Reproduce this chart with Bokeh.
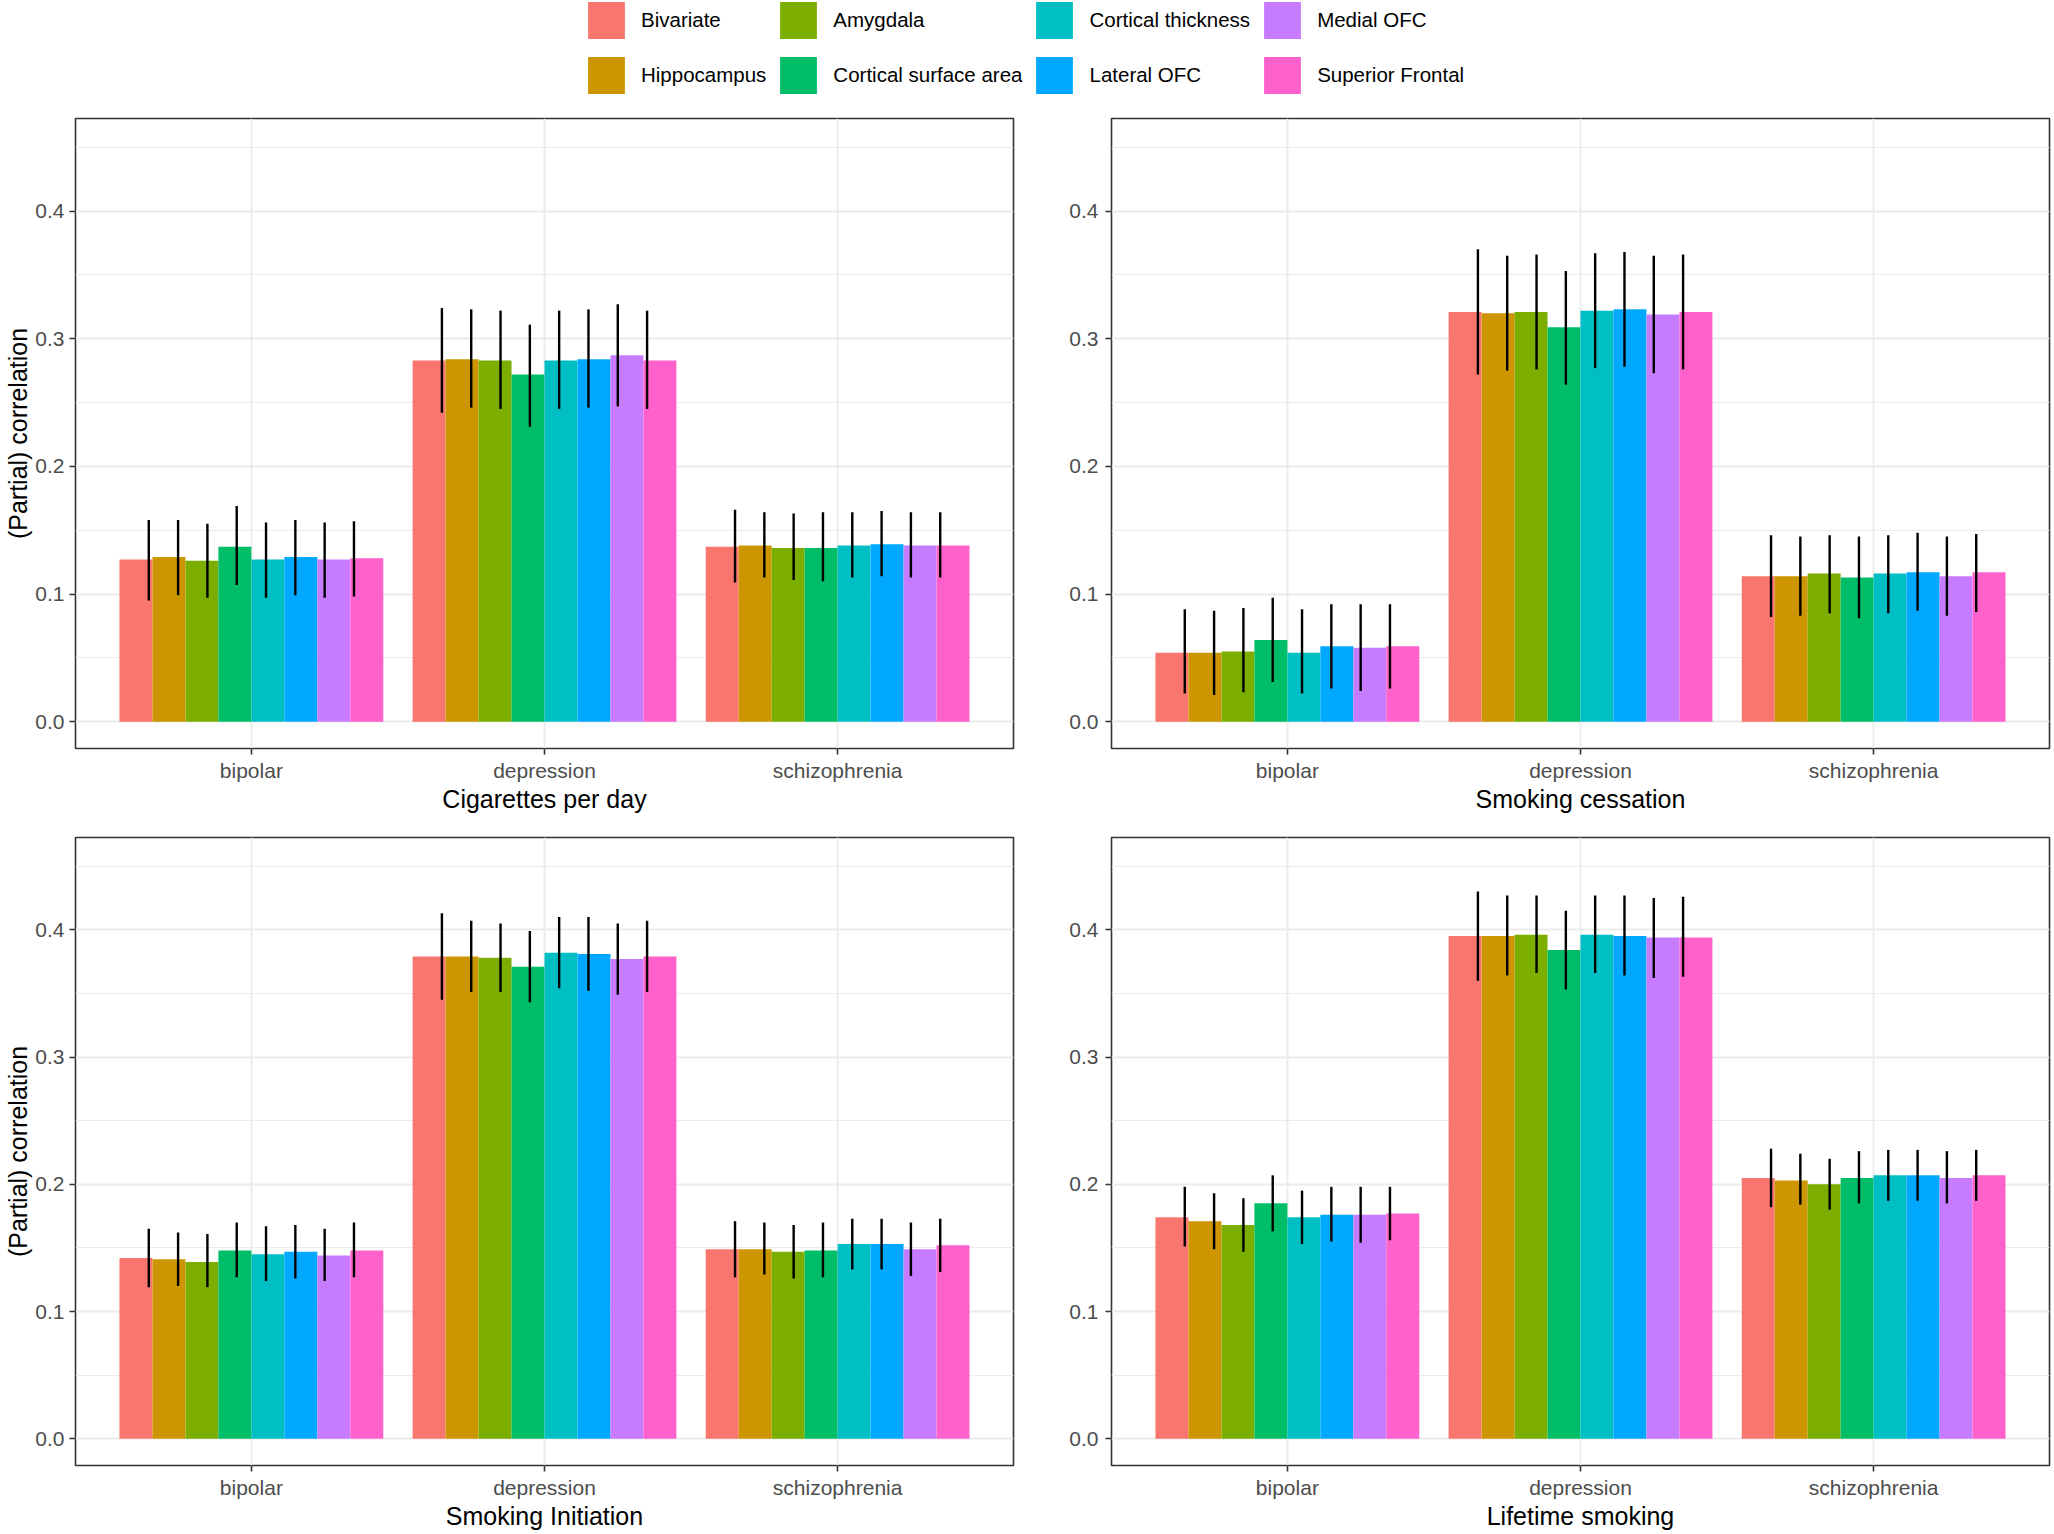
from bokeh.plotting import figure
from bokeh.models import (ColumnDataSource, FactorRange, Range1d, FixedTicker,
                          Legend, LegendItem)
from bokeh.layouts import column, row
from bokeh.transform import dodge
from bokeh.embed import file_html
from bokeh.resources import INLINE

# ---------------- data ----------------
CATEGORIES = ["bipolar", "depression", "schizophrenia"]
SERIES = ["Bivariate", "Hippocampus", "Amygdala", "Cortical surface area",
          "Cortical thickness", "Lateral OFC", "Medial OFC", "Superior Frontal"]
COLORS = ["#F8766D", "#CD9600", "#7CAE00", "#00BE67",
          "#00BFC4", "#00A9FF", "#C77CFF", "#FF61CC"]
PANEL_TITLES = ["Cigarettes per day", "Smoking cessation",
                "Smoking Initiation", "Lifetime smoking"]
Y_TICKS = [0.0, 0.1, 0.2, 0.3, 0.4]
Y_TICK_LABELS = ["0.0", "0.1", "0.2", "0.3", "0.4"]
Y_MINOR = [0.05, 0.15, 0.25, 0.35, 0.45]
Y_LABEL = "(Partial) correlation"

# rows: bipolar, depression, schizophrenia ; columns: SERIES order
cig_r = [[0.127, 0.129, 0.126, 0.137, 0.127, 0.129, 0.127, 0.128],
         [0.283, 0.284, 0.283, 0.272, 0.283, 0.284, 0.287, 0.283],
         [0.137, 0.138, 0.136, 0.136, 0.138, 0.139, 0.138, 0.138]]
cig_lo = [[0.095, 0.099, 0.097, 0.107, 0.097, 0.099, 0.097, 0.098],
          [0.242, 0.246, 0.245, 0.231, 0.245, 0.246, 0.247, 0.245],
          [0.109, 0.113, 0.111, 0.110, 0.113, 0.114, 0.113, 0.113]]
cig_hi = [[0.158, 0.158, 0.155, 0.169, 0.156, 0.158, 0.156, 0.157],
          [0.324, 0.323, 0.322, 0.311, 0.322, 0.323, 0.327, 0.322],
          [0.166, 0.164, 0.163, 0.164, 0.164, 0.165, 0.164, 0.164]]

ces_r = [[0.054, 0.054, 0.055, 0.064, 0.054, 0.059, 0.058, 0.059],
         [0.321, 0.320, 0.321, 0.309, 0.322, 0.323, 0.319, 0.321],
         [0.114, 0.114, 0.116, 0.113, 0.116, 0.117, 0.114, 0.117]]
ces_lo = [[0.022, 0.021, 0.023, 0.031, 0.022, 0.026, 0.024, 0.026],
          [0.272, 0.275, 0.276, 0.264, 0.277, 0.278, 0.273, 0.276],
          [0.082, 0.083, 0.085, 0.081, 0.085, 0.087, 0.083, 0.086]]
ces_hi = [[0.088, 0.087, 0.089, 0.097, 0.088, 0.092, 0.092, 0.092],
          [0.370, 0.365, 0.366, 0.353, 0.367, 0.368, 0.365, 0.366],
          [0.146, 0.145, 0.146, 0.145, 0.146, 0.148, 0.145, 0.147]]

ini_r = [[0.142, 0.141, 0.139, 0.148, 0.145, 0.147, 0.144, 0.148],
         [0.379, 0.379, 0.378, 0.371, 0.382, 0.381, 0.377, 0.379],
         [0.149, 0.149, 0.147, 0.148, 0.153, 0.153, 0.149, 0.152]]
ini_lo = [[0.119, 0.120, 0.119, 0.127, 0.124, 0.126, 0.124, 0.127],
          [0.345, 0.351, 0.351, 0.343, 0.354, 0.352, 0.349, 0.351],
          [0.127, 0.129, 0.126, 0.127, 0.133, 0.133, 0.128, 0.131]]
ini_hi = [[0.165, 0.162, 0.161, 0.170, 0.167, 0.168, 0.165, 0.170],
          [0.413, 0.407, 0.405, 0.399, 0.410, 0.410, 0.405, 0.407],
          [0.171, 0.170, 0.168, 0.170, 0.173, 0.173, 0.170, 0.173]]

life_r = [[0.174, 0.171, 0.168, 0.185, 0.174, 0.176, 0.176, 0.177],
          [0.395, 0.395, 0.396, 0.384, 0.396, 0.395, 0.394, 0.394],
          [0.205, 0.203, 0.200, 0.205, 0.207, 0.207, 0.205, 0.207]]
life_lo = [[0.151, 0.149, 0.147, 0.163, 0.153, 0.155, 0.154, 0.156],
           [0.360, 0.364, 0.366, 0.353, 0.366, 0.364, 0.362, 0.363],
           [0.182, 0.184, 0.180, 0.185, 0.187, 0.187, 0.185, 0.187]]
life_hi = [[0.198, 0.193, 0.189, 0.207, 0.195, 0.198, 0.198, 0.198],
           [0.430, 0.427, 0.427, 0.415, 0.427, 0.427, 0.425, 0.426],
           [0.228, 0.224, 0.220, 0.226, 0.227, 0.227, 0.226, 0.227]]

PANELS = [(cig_r, cig_lo, cig_hi), (ces_r, ces_lo, ces_hi),
          (ini_r, ini_lo, ini_hi), (life_r, life_lo, life_hi)]

# ---------------- style ----------------
FONT = "Liberation Sans"
GRID = "#EBEBEB"
N = len(SERIES)
BAR_DODGE = 0.9
ERR_DODGE = 0.8


def make_panel(idx, width, height, left, right, top, bottom, ylabel):
    r, lo, hi = PANELS[idx]
    xr = FactorRange(*CATEGORIES, range_padding=0.1, range_padding_units="absolute")
    p = figure(x_range=xr, y_range=Range1d(-0.021, 0.4725),
               width=width, height=height, output_backend="svg",
               toolbar_location=None, min_border_left=left,
               min_border_right=right, min_border_top=top,
               min_border_bottom=bottom)
    p.outline_line_color = "#333333"
    p.outline_line_width = 1.6
    p.background_fill_color = "white"
    p.border_fill_color = "white"

    sources = []
    for i, (name, col) in enumerate(zip(SERIES, COLORS)):
        src = ColumnDataSource(dict(
            cat=CATEGORIES,
            r=[r[k][i] for k in range(len(CATEGORIES))],
            lo=[lo[k][i] for k in range(len(CATEGORIES))],
            hi=[hi[k][i] for k in range(len(CATEGORIES))]))
        sources.append(src)
        boff = (i - (N - 1) / 2) * BAR_DODGE / N
        eoff = (i - (N - 1) / 2) * ERR_DODGE / N
        p.vbar(x=dodge("cat", boff, range=xr), top="r", bottom=0,
               width=BAR_DODGE / N, fill_color=col, line_color=None,
               source=src)
        p.segment(x0=dodge("cat", eoff, range=xr), x1=dodge("cat", eoff, range=xr),
                  y0="lo", y1="hi", line_color="black", line_width=2.4,
                  source=src)

    p.yaxis.ticker = FixedTicker(ticks=Y_TICKS, minor_ticks=Y_MINOR)
    p.yaxis.major_label_overrides = dict(zip(Y_TICKS, Y_TICK_LABELS))
    p.ygrid.grid_line_color = GRID
    p.ygrid.grid_line_width = 1.8
    p.ygrid.minor_grid_line_color = GRID
    p.ygrid.minor_grid_line_width = 1.0
    p.xgrid.grid_line_color = GRID
    p.xgrid.grid_line_width = 1.8

    for ax in (p.xaxis[0], p.yaxis[0]):
        ax.axis_line_color = None
        ax.major_tick_out = 6
        ax.major_tick_in = 0
        ax.minor_tick_line_color = None
        ax.major_tick_line_color = "#333333"
        ax.major_tick_line_width = 1.6
        ax.major_label_text_font = FONT
        ax.major_label_text_font_size = "21px"
        ax.major_label_text_color = "#4D4D4D"
        ax.axis_label_text_font = FONT
        ax.axis_label_text_font_size = "25px"
        ax.axis_label_text_font_style = "normal"
        ax.axis_label_text_color = "black"
    p.xaxis.major_label_standoff = 4
    p.xaxis.axis_label = PANEL_TITLES[idx]
    p.xaxis.axis_label_standoff = 0
    if ylabel:
        p.yaxis.major_label_standoff = 5
        p.yaxis.axis_label = Y_LABEL
        p.yaxis.axis_label_standoff = 0
    else:
        p.yaxis.major_label_standoff = 7
    return p, sources


W1, W2 = 1065, 987
f1, src1 = make_panel(0, W1, 720, 75, 52, 18, 72, True)
f2, _ = make_panel(1, W2, 720, 46, 3, 18, 72, False)
f3, _ = make_panel(2, W1, 712, 75, 52, 17, 65, True)
f4, _ = make_panel(3, W2, 712, 46, 3, 17, 65, False)

# ---------------- legend ----------------
# Legend swatches come from bar renderers of the first panel's data, drawn in a
# figure whose y-range lies above all values, so only the legend is visible.
leg = figure(width=W1 + W2, height=100, output_backend="svg",
             toolbar_location=None, min_border=0,
             x_range=FactorRange(*CATEGORIES), y_range=Range1d(1, 2))
leg.outline_line_color = None
leg.axis.visible = False
leg.grid.visible = False
items = []
for name, col, src in zip(SERIES, COLORS, src1):
    rr = leg.vbar(x="cat", top="r", bottom=0, width=0.1, fill_color=col,
                  line_color=None, source=src)
    items.append(LegendItem(label=name, renderers=[rr]))
legend = Legend(items=items, location=(583, 2), orientation="vertical",
                nrows=2, glyph_width=46, glyph_height=46, label_standoff=12,
                spacing=9, padding=0, margin=0, border_line_color=None,
                background_fill_alpha=0, label_text_font=FONT,
                label_text_font_size="20.5px", label_text_color="black",
                label_height=46)
leg.add_layout(legend)

layout = column(leg, row(f1, f2), row(f3, f4))

with open("out.html", "w") as fh:
    fh.write(file_html(layout, INLINE))
